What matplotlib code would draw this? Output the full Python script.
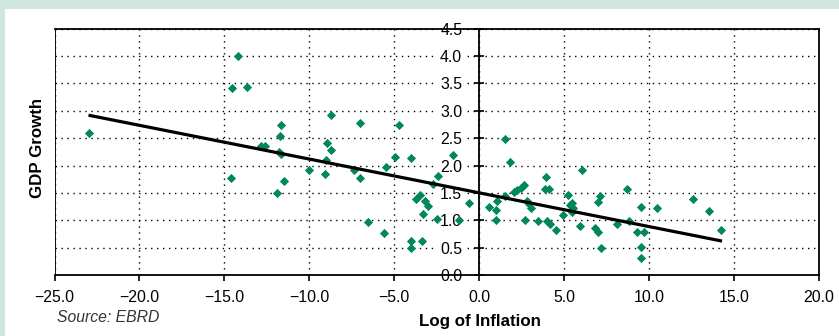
import numpy as np
import matplotlib
matplotlib.use("Agg")
import matplotlib.pyplot as plt
from matplotlib.patches import Rectangle

plt.rcParams['font.family'] = ['Liberation Sans', 'DejaVu Sans']

# log of inflation vs GDP growth
log_inflation = [
    -22.97, -14.20, -14.53, -13.67, -14.64, -11.66, -11.72, -12.85, -12.61,
    -11.81, -11.66, -8.74, -7.00, -4.70, -8.94, -8.74, -9.02, -5.50, -4.96,
    -4.00, -10.00, -9.08, -7.34, -7.00, -11.49, -11.92, -6.55, -5.58, -4.00,
    -4.00, -3.38, -2.74, -2.45, -3.74, -3.50, -3.17, -3.02, -3.30, -2.50,
    -1.56, -1.18, -0.58,
    1.54, 1.81, 0.57, 1.03, 1.01, 1.02, 1.55, 2.03, 2.25, 2.47, 2.62, 2.80,
    2.91, 3.03, 2.67, 3.47, 3.91, 3.87, 4.13, 3.97, 4.17, 4.52, 4.91, 5.25,
    6.03, 5.34, 5.48, 5.54, 5.44, 5.93, 7.11, 6.97, 6.82, 7.01, 7.17, 8.68,
    8.13, 8.83, 9.31, 9.50, 9.72, 9.52, 9.52, 10.48, 12.60, 13.51, 14.21,
]
gdp_growth = [
    2.59, 4.01, 3.41, 3.43, 1.77, 2.75, 2.54, 2.35, 2.35,
    2.25, 2.21, 2.92, 2.78, 2.75, 2.41, 2.29, 2.10, 1.97, 2.16,
    2.13, 1.91, 1.85, 1.91, 1.77, 1.71, 1.50, 0.96, 0.76, 0.63,
    0.49, 0.63, 1.66, 1.81, 1.38, 1.47, 1.35, 1.27, 1.12, 1.02,
    2.19, 1.01, 1.31,
    2.48, 2.07, 1.25, 1.36, 1.18, 1.01, 1.44, 1.52, 1.55, 1.59, 1.64, 1.36,
    1.29, 1.22, 1.01, 0.98, 1.80, 1.58, 1.58, 0.98, 0.94, 0.82, 1.10, 1.47,
    1.92, 1.28, 1.31, 1.22, 1.16, 0.90, 1.44, 1.34, 0.85, 0.79, 0.49, 1.58,
    0.93, 0.99, 0.79, 1.24, 0.79, 0.52, 0.32, 1.23, 1.38, 1.17, 0.82,
]

# trend line end points
trend_x = [-23.0, 14.3]
trend_y = [2.92, 0.62]

x_ticks = [-25.0, -20.0, -15.0, -10.0, -5.0, 0.0, 5.0, 10.0, 15.0, 20.0]
y_ticks = [0.0, 0.5, 1.0, 1.5, 2.0, 2.5, 3.0, 3.5, 4.0, 4.5]


def fmt(v):
    return ('%.1f' % v).replace('-', '\u2212')


fig = plt.figure(figsize=(8.39, 3.36), dpi=100, facecolor='#d1e7dd')
fig.patches.append(Rectangle((5 / 839, 0), 1, 1 - 9 / 336, transform=fig.transFigure,
                             facecolor='white', edgecolor='none', zorder=-10))

ax = fig.add_axes([0.065, 0.1815, 0.911, 0.733])
ax.set_facecolor('white')
ax.set_xlim(-25, 20)
ax.set_ylim(0, 4.5)

ax.grid(True, color='black', linestyle=(0, (1, 3.3)), linewidth=1.0)
ax.set_axisbelow(True)

ax.scatter(log_inflation, gdp_growth, marker='D', s=22, color='#00875b',
           linewidths=0, zorder=4)
ax.plot(trend_x, trend_y, color='black', linewidth=2.3, zorder=5,
        solid_capstyle='butt')

# y axis sits at x = 0, frame kept with a line at the left edge
ax.spines['left'].set_position(('data', 0))
ax.axvline(-25, color='black', linewidth=1.3, zorder=3)
for s in ['left', 'right', 'top', 'bottom']:
    ax.spines[s].set_linewidth(1.3)
    ax.spines[s].set_zorder(2)

ax.set_xticks(x_ticks)
ax.set_xticklabels([fmt(v) for v in x_ticks])
ax.set_yticks(y_ticks)
ax.set_yticklabels([fmt(v) for v in y_ticks])
ax.tick_params(axis='x', direction='out', length=4, width=1.2, labelsize=11.4, pad=7)
ax.tick_params(axis='y', direction='inout', length=7.6, width=1.2, labelsize=11.4, pad=8.4)
for lab in ax.get_yticklabels():
    lab.set_bbox(dict(facecolor='white', edgecolor='none', pad=2.0))

fig.text(37 / 839, 1 - 147.5 / 336, 'GDP Growth', rotation=90, fontsize=12.2,
         fontweight='bold', ha='center', va='center')
fig.text(479.5 / 839, 1 - 326 / 336, 'Log of Inflation', fontsize=12.2,
         fontweight='bold', ha='center', va='baseline')
fig.text(57 / 839, 1 - 322 / 336, 'Source: EBRD', fontsize=11.3, style='italic',
         color='#333333', ha='left', va='baseline')

fig.savefig('out.png', dpi=100, facecolor=fig.get_facecolor())
